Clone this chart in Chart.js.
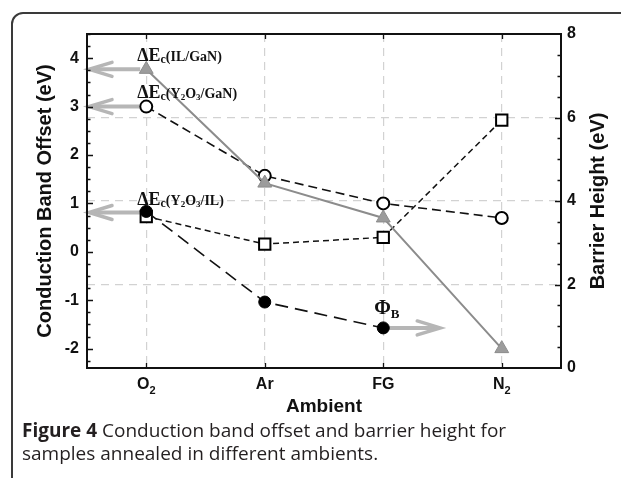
<!DOCTYPE html>
<html>
<head>
<meta charset="utf-8">
<script src="https://cdn.jsdelivr.net/npm/chart.js@4.4.1/dist/chart.umd.min.js"></script>
<style>
  html, body { margin: 0; padding: 0; background: #fff; }
  #page { position: absolute; left: 0; top: 0; width: 621px; height: 478px; overflow: hidden; }
  #frame { position: absolute; left: 11px; top: 12px; width: 660px; height: 520px; border: 2px solid #3a3a3a; border-radius: 12px; }
  #wrap { position: absolute; left: 0; top: 0; width: 621px; height: 420px; }
  #caption { position: absolute; left: 22px; top: 419px; font-family: "Open Sans"; font-size: 19px; line-height: 23px; color: #231f20; white-space: nowrap; }
</style>
</head>
<body>
<div id="page">
  <div id="frame"></div>
  <div id="wrap"><canvas id="myChart"></canvas></div>
  <div id="caption"><b>Figure 4</b> Conduction band offset and barrier height for<br>samples annealed in different ambients.</div>
</div>
<script>
// Data
const ambients = ['O₂', 'Ar', 'FG', 'N₂'];
const ilGaN = [3.77, 1.42, 0.70, -2.0];      // left axis, grey triangles
const y2o3GaN = [3.0, 1.57, 1.0, 0.70];      // left axis, open circles
const y2o3IL = [0.73, 0.16, 0.30, 2.72];     // left axis, open squares
const barrier = [3.75, 1.58, 0.96, null];    // right axis, filled circles
const leftRange = [-2.4, 4.5];
const rightRange = [0, 8];

const serif = '"Liberation Serif", "DejaVu Serif", serif';
const sans = '"Liberation Sans", Arial, sans-serif';

// rich text: [text, size, baseline shift]
function richText(ctx, x, y, parts, family) {
    ctx.save();
    ctx.fillStyle = '#111';
    ctx.textBaseline = 'alphabetic';
    ctx.textAlign = 'left';
    for (const p of parts) {
        ctx.font = 'bold ' + p[1] + 'px ' + (family || serif);
        ctx.fillText(p[0], x, y + p[2]);
        x += ctx.measureText(p[0]).width;
    }
    ctx.restore();
}

function arrow(ctx, tailX, tipX, y) {
    const dir = tipX < tailX ? 1 : -1;
    ctx.save();
    ctx.strokeStyle = '#b6b6b6';
    ctx.lineWidth = 4;
    ctx.lineCap = 'butt';
    ctx.beginPath();
    ctx.moveTo(tailX, y);
    ctx.lineTo(tipX + dir * 2, y);
    ctx.stroke();
    ctx.lineWidth = 3.5;
    ctx.lineCap = 'round';
    ctx.beginPath();
    ctx.moveTo(tipX + dir * 23, y - 7);
    ctx.lineTo(tipX, y);
    ctx.lineTo(tipX + dir * 23, y + 7);
    ctx.stroke();
    ctx.restore();
}

const extras = {
    id: 'extras',
    beforeDatasetsDraw(chart) {
        const ctx = chart.ctx;
        const a = chart.chartArea;
        const x = chart.scales.x, yl = chart.scales.y, yr = chart.scales.y2;
        const x0 = x.getPixelForValue(0);
        arrow(ctx, x0 - 6, a.left + 2, yl.getPixelForValue(ilGaN[0]));
        arrow(ctx, x0 - 7, a.left + 2, yl.getPixelForValue(y2o3GaN[0]));
        arrow(ctx, x0 - 6, a.left + 2, yl.getPixelForValue(y2o3IL[0]) - 4);
        const x2 = x.getPixelForValue(2);
        arrow(ctx, x2 + 5, x2 + 57, yr.getPixelForValue(barrier[2]));
    },
    afterDraw(chart) {
        const ctx = chart.ctx;
        const a = chart.chartArea;
        const x = chart.scales.x, yl = chart.scales.y, yr = chart.scales.y2;
        ctx.save();
        ctx.strokeStyle = '#111';
        // inward ticks
        ctx.lineWidth = 1.3;
        ctx.beginPath();
        for (let v = -2.25; v <= 4.5; v += 0.25) {
            const py = Math.round(yl.getPixelForValue(v)) + 0.5;
            const len = Math.abs(v - Math.round(v)) < 1e-6 ? 6 : 3.5;
            ctx.moveTo(a.left, py); ctx.lineTo(a.left + len, py);
        }
        for (let v = 0.5; v < 8; v += 0.5) {
            const py = Math.round(yr.getPixelForValue(v)) + 0.5;
            const len = v % 2 === 0 ? 6 : 3.5;
            ctx.moveTo(a.right, py); ctx.lineTo(a.right - len, py);
        }
        for (let i = 0; i < ambients.length; i++) {
            const px = Math.round(x.getPixelForValue(i)) + 0.5;
            ctx.moveTo(px, a.bottom); ctx.lineTo(px, a.bottom - 5);
            ctx.moveTo(px, a.top); ctx.lineTo(px, a.top + 5);
        }
        ctx.stroke();
        // plot frame
        ctx.lineWidth = 2;
        ctx.strokeRect(a.left, a.top, a.right - a.left, a.bottom - a.top);
        ctx.restore();

        // category labels with real subscripts
        ctx.save();
        ctx.font = 'bold 16px ' + sans;
        ambients.forEach(function(name, i) {
            const sub = name.endsWith('₂');
            const base = sub ? name.slice(0, -1) : name;
            ctx.font = 'bold 16px ' + sans;
            const w1 = ctx.measureText(base).width;
            ctx.font = 'bold 11px ' + sans;
            const w2 = sub ? ctx.measureText('2').width : 0;
            const left = x.getPixelForValue(i) - (w1 + w2) / 2;
            richText(ctx, left, a.bottom + 21, sub ? [[base, 16, 0], ['2', 11, 5]] : [[base, 16, 0]], sans);
        });
        ctx.restore();

        // right axis title, reading bottom to top
        ctx.save();
        ctx.translate(598, (a.top + a.bottom) / 2);
        ctx.rotate(-Math.PI / 2);
        ctx.font = 'bold 20px ' + sans;
        ctx.fillStyle = '#111';
        ctx.textAlign = 'center';
        ctx.textBaseline = 'middle';
        ctx.fillText('Barrier Height (eV)', 0, 0);
        ctx.restore();

        // annotations
        const x0 = x.getPixelForValue(0);
        richText(ctx, x0 - 9, yl.getPixelForValue(ilGaN[0]) - 8,
            [['ΔE', 18, 0], ['c', 12, 2], ['(IL/GaN)', 14, 0]]);
        richText(ctx, x0 - 9, yl.getPixelForValue(y2o3GaN[0]) - 9,
            [['ΔE', 18, 0], ['c', 12, 2], ['(Y', 14, 0], ['2', 9, 2], ['O', 14, 0], ['3', 9, 2], ['/GaN)', 14, 0]]);
        richText(ctx, x0 - 9, yl.getPixelForValue(y2o3IL[0]) - 11,
            [['ΔE', 18, 0], ['c', 12, 2], ['(Y', 14, 0], ['2', 9, 2], ['O', 14, 0], ['3', 9, 2], ['/IL)', 14, 0]]);
        const x2 = x.getPixelForValue(2);
        richText(ctx, x2 - 9, yr.getPixelForValue(barrier[2]) - 14,
            [['Φ', 20, 0], ['B', 13, 4]]);
    }
};

const ctx = document.getElementById('myChart').getContext('2d');

const data = {
    labels: ambients,
    datasets: [
        {
            label: 'ΔEc(IL/GaN)',
            data: ilGaN,
            yAxisID: 'y',
            borderColor: '#8c8c8c',
            borderWidth: 2,
            pointStyle: 'triangle',
            pointRadius: 8,
            pointBackgroundColor: '#9c9c9c',
            pointBorderColor: '#8c8c8c',
            pointBorderWidth: 1
        },
        {
            label: 'ΦB',
            data: barrier,
            yAxisID: 'y2',
            borderColor: '#111',
            borderWidth: 1.6,
            borderDash: [13, 7],
            pointStyle: 'circle',
            pointRadius: 6,
            pointBackgroundColor: '#000',
            pointBorderColor: '#000',
            pointBorderWidth: 1
        },
        {
            label: 'ΔEc(Y2O3/GaN)',
            data: y2o3GaN,
            yAxisID: 'y',
            borderColor: '#111',
            borderWidth: 1.6,
            borderDash: [9, 5],
            pointStyle: 'circle',
            pointRadius: 6,
            pointBackgroundColor: '#fff',
            pointBorderColor: '#000',
            pointBorderWidth: 2
        },
        {
            label: 'ΔEc(Y2O3/IL)',
            data: y2o3IL,
            yAxisID: 'y',
            borderColor: '#111',
            borderWidth: 1.5,
            borderDash: [6, 4],
            pointStyle: 'rect',
            pointRadius: 8,
            pointBackgroundColor: '#fff',
            pointBorderColor: '#000',
            pointBorderWidth: 2
        }
    ]
};

const config = {
    type: 'line',
    data: data,
    plugins: [extras],
    options: {
        responsive: true,
        maintainAspectRatio: false,
        animation: false,
        spanGaps: false,
        layout: { padding: { top: 34, left: 0, right: 0, bottom: 0 } },
        plugins: {
            legend: { display: false },
            tooltip: { enabled: false }
        },
        scales: {
            x: {
                type: 'category',
                offset: true,
                afterFit: function(s) { s.height = 52; },
                grid: { color: '#d2d2d2', lineWidth: 1.2, drawTicks: false, offset: false },
                border: { display: false, dash: [8, 6] },
                ticks: { display: false },
                title: {
                    display: true,
                    text: 'Ambient',
                    color: '#111',
                    font: { size: 19, weight: 'bold', family: sans },
                    padding: { top: 0, bottom: 2 }
                }
            },
            y: {
                position: 'left',
                min: leftRange[0],
                max: leftRange[1],
                afterFit: function(s) { s.width = 87; },
                grid: { display: false, drawTicks: false },
                border: { display: false },
                ticks: { stepSize: 1, includeBounds: false, color: '#111', padding: 8, font: { size: 16, weight: 'bold', family: sans } },
                title: {
                    display: true,
                    text: 'Conduction Band Offset (eV)',
                    color: '#111',
                    font: { size: 20, weight: 'bold', family: sans },
                    padding: { top: 33, bottom: 0 }
                }
            },
            y2: {
                position: 'right',
                min: rightRange[0],
                max: rightRange[1],
                afterFit: function(s) { s.width = 60; },
                grid: {
                    drawTicks: false,
                    lineWidth: 1.2,
                    color: function(c) {
                        if (c.tick && (c.tick.value === 0 || c.tick.value === 8)) return 'rgba(0,0,0,0)';
                        return '#d2d2d2';
                    }
                },
                border: { display: false, dash: [8, 6] },
                ticks: { stepSize: 2, color: '#111', padding: 6, font: { size: 16, weight: 'bold', family: sans } },
                title: { display: false }
            }
        }
    }
};

const myChart = new Chart(ctx, config);
</script>
</body>
</html>
